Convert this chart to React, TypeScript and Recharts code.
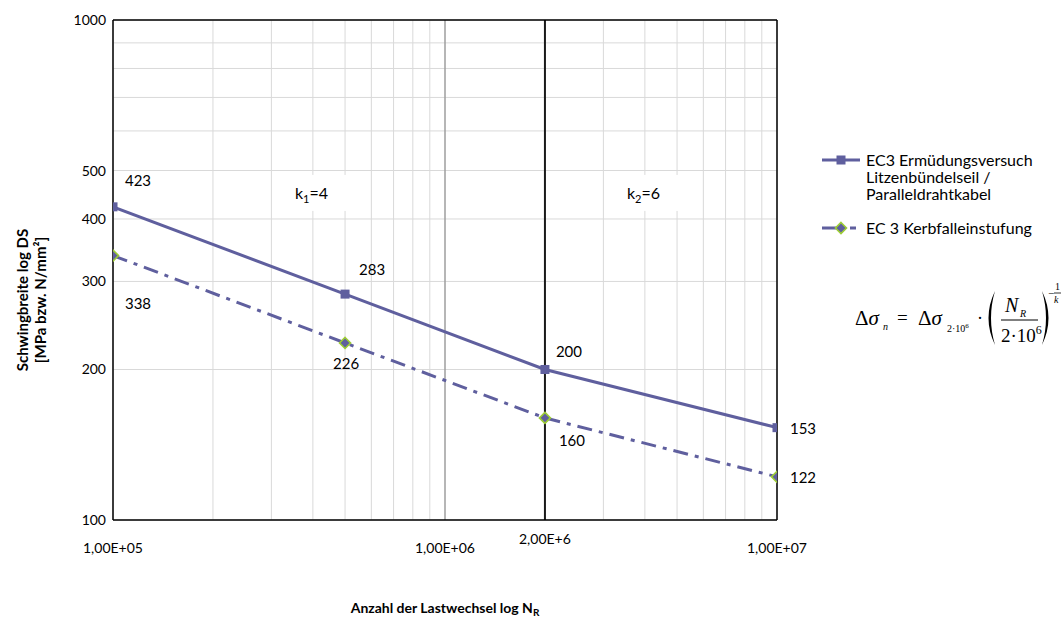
import React from "react";
import {
  LineChart,
  Line,
  XAxis,
  YAxis,
  CartesianGrid,
  ReferenceLine,
  ReferenceDot,
  LabelList,
} from "recharts";

// Stützstellen (Lastwechsel N_R)
const cycles = [1e5, 5e5, 2e6, 1e7];
// EC3 Ermüdungsversuch Litzenbündelseil / Paralleldrahtkabel
const versuchValues = [423, 283, 200, 153];
// EC 3 Kerbfalleinstufung
const kerbfallValues = [338, 226, 160, 122];

const xGridTicks = [
  1e5, 2e5, 3e5, 4e5, 5e5, 6e5, 7e5, 8e5, 9e5,
  1e6, 2e6, 3e6, 4e6, 5e6, 6e6, 7e6, 8e6, 9e6, 1e7,
];
const xLabelValues = [1e5, 1e6, 2e6, 1e7];
const xLabelTexts = ["1,00E+05", "1,00E+06", "2,00E+6", "1,00E+07"];
const yGridTicks = [100, 200, 300, 400, 500, 600, 700, 800, 900, 1000];
const yLabelValues = [100, 200, 300, 400, 500, 1000];

const versuchData = cycles.map((n, i) => ({ n, s: versuchValues[i] }));
const kerbfallData = cycles.map((n, i) => ({ n, s: kerbfallValues[i] }));

const LINE = "#5f5f9e";
const GREEN = "#9ccc34";
const FONT = "Lato, 'Open Sans', sans-serif";
const SERIF = "'Liberation Serif', 'DejaVu Serif', serif";
const DASH = "15 7 4 7";

// Lage der Wertebeschriftungen relativ zum Punkt
const versuchLabelOffsets = [[25, -27], [27, -25], [24, -18], [26, 0]];
const kerbfallLabelOffsets = [[25, 47], [1, 20], [27, 22], [26, 0]];

const XTick = (p: any) => {
  const { x, y, payload } = p;
  const i = xLabelValues.indexOf(payload.value);
  if (i < 0) return <g />;
  const dy = payload.value === 2e6 ? 24 : 33;
  return (
    <text x={x} y={y + dy} textAnchor="middle" fontSize={14} fontFamily={FONT} fill="#000">
      {xLabelTexts[i]}
    </text>
  );
};

const YTick = (p: any) => {
  const { x, y, payload } = p;
  if (!yLabelValues.includes(payload.value)) return <g />;
  return (
    <text x={x - 7} y={y + 5} textAnchor="end" fontSize={14} fontFamily={FONT} fill="#000">
      {payload.value}
    </text>
  );
};

const SquareDot = (p: any) => {
  const { cx, cy, index } = p;
  return <rect key={`sq-${index}`} x={cx - 4.5} y={cy - 4.5} width={9} height={9} fill={LINE} />;
};

const DiamondDot = (p: any) => {
  const { cx, cy, index } = p;
  const r = 5.5;
  return (
    <path
      key={`di-${index}`}
      d={`M${cx},${cy - r}L${cx + r},${cy}L${cx},${cy + r}L${cx - r},${cy}Z`}
      fill={LINE}
      stroke={GREEN}
      strokeWidth={1.6}
    />
  );
};

const makeLabel = (offsets: number[][]) => (p: any) => {
  const { x, y, index, value } = p;
  const [dx, dy] = offsets[index];
  return (
    <text
      x={x + dx}
      y={y + dy}
      textAnchor="middle"
      dominantBaseline="central"
      fontSize={15}
      fontFamily={FONT}
      fill="#000"
    >
      {value}
    </text>
  );
};

const slopeLabel = (sub: string, val: number) => (p: any) => {
  const { cx, cy } = p;
  return (
    <g>
      <rect x={cx - 30} y={cy - 18} width={66} height={36} fill="#fff" />
      <text x={cx - 18} y={cy + 6} fontSize={16} fontFamily={FONT} fill="#000">
        k
        <tspan fontSize={11} dy={4}>{sub}</tspan>
        <tspan dy={-4}>={val}</tspan>
      </text>
    </g>
  );
};

const YTitle = () => {
  const cy = 300;
  return (
    <g fontFamily={FONT} fontWeight="bold" fontSize={15} fill="#000">
      <text transform={`translate(28, ${cy}) rotate(-90)`} textAnchor="middle">
        Schwingbreite log DS
      </text>
      <text transform={`translate(46, ${cy}) rotate(-90)`} textAnchor="middle">
        [MPa  bzw. N/mm²]
      </text>
    </g>
  );
};

const XTitle = () => (
  <text x={445} y={613} textAnchor="middle" fontFamily={FONT} fontWeight="bold" fontSize={14} fill="#000">
    Anzahl der Lastwechsel log N
    <tspan fontSize={10} dy={3}>R</tspan>
  </text>
);

const LegendBox = () => (
  <svg width={245} height={110} style={{ position: "absolute", left: 818, top: 140 }}>
    <g fontFamily={FONT} fontSize={16} fill="#000">
      <line x1={4} y1={20} x2={42} y2={20} stroke={LINE} strokeWidth={3} />
      <rect x={18.5} y={15.5} width={9} height={9} fill={LINE} />
      <text x={48} y={26}>
        EC3 Ermüdungsversuch
        <tspan x={48} dy={17}>Litzenbündelseil /</tspan>
        <tspan x={48} dy={17}>Paralleldrahtkabel</tspan>
      </text>
      <line x1={4} y1={88} x2={42} y2={88} stroke={LINE} strokeWidth={3} strokeDasharray="22 6 6 6" />
      <path d="M23,82.5L28.5,88L23,93.5L17.5,88Z" fill={LINE} stroke={GREEN} strokeWidth={1.6} />
      <text x={48} y={94}>EC 3 Kerbfalleinstufung</text>
    </g>
  </svg>
);

const Formula = () => (
  <svg width={213} height={80} style={{ position: "absolute", left: 850, top: 278 }}>
    <g fontFamily={SERIF} fill="#000">
      <text x={5} y={47} fontSize={21}>Δ<tspan fontStyle="italic">σ</tspan></text>
      <text x={33} y={52} fontSize={10} fontStyle="italic">n</text>
      <text x={47} y={46} fontSize={19}>=</text>
      <text x={68} y={47} fontSize={21}>Δ<tspan fontStyle="italic">σ</tspan></text>
      <text x={97} y={54} fontSize={10}>2·10<tspan fontSize={7} dy={-4}>6</tspan></text>
      <text x={127} y={46} fontSize={18}>·</text>
      <path d="M145,13 Q132,40 145,67 Q137,40 145,13 Z" />
      <text x={155} y={34} fontSize={20} fontStyle="italic">N</text>
      <text x={170} y={39} fontSize={10} fontStyle="italic">R</text>
      <line x1={151} y1={42} x2={188} y2={42} stroke="#000" strokeWidth={1} />
      <text x={151} y={64} fontSize={19}>2·10<tspan fontSize={12} dy={-8}>6</tspan></text>
      <path d="M192,13 Q205,40 192,67 Q200,40 192,13 Z" />
      <text x={198} y={19} fontSize={11}>−</text>
      <text x={205} y={12} fontSize={10}>1</text>
      <line x1={204} y1={15} x2={211} y2={15} stroke="#000" strokeWidth={0.8} />
      <text x={204} y={25} fontSize={10} fontStyle="italic">k</text>
    </g>
  </svg>
);

export default function App() {
  return (
    <div style={{ position: "absolute", left: 0, top: 0, width: 1063, height: 619, background: "#fff" }}>
      <LineChart width={1063} height={619} margin={{ top: 20, right: 286, bottom: 59, left: 53 }}>
        <CartesianGrid stroke="#d9d9d9" strokeWidth={1} />
        <XAxis
          dataKey="n"
          type="number"
          scale="log"
          domain={[1e5, 1e7]}
          ticks={xGridTicks}
          interval={0}
          allowDataOverflow
          tick={XTick}
          tickLine={false}
          axisLine={false}
          tickSize={0}
          tickMargin={0}
          height={40}
          label={XTitle}
        />
        <YAxis
          type="number"
          scale="log"
          domain={[100, 1000]}
          ticks={yGridTicks}
          interval={0}
          allowDataOverflow
          tick={YTick}
          tickLine={false}
          axisLine={false}
          tickSize={0}
          tickMargin={0}
          width={60}
          label={YTitle}
        />
        <ReferenceLine x={1e6} stroke="#808080" strokeWidth={1} />
        <ReferenceLine x={2e6} stroke="#1a1a1a" strokeWidth={2} />
        <ReferenceLine x={1e5} stroke="#000" strokeWidth={1.5} />
        <ReferenceLine x={1e7} stroke="#000" strokeWidth={1.5} />
        <ReferenceLine y={100} stroke="#000" strokeWidth={1.5} />
        <ReferenceLine y={1000} stroke="#000" strokeWidth={1.5} />
        <ReferenceDot x={4e5} y={451} r={0} shape={slopeLabel("1", 4)} />
        <ReferenceDot x={4e6} y={451} r={0} shape={slopeLabel("2", 6)} />
        <Line
          data={versuchData}
          dataKey="s"
          name="EC3 Ermüdungsversuch Litzenbündelseil / Paralleldrahtkabel"
          stroke={LINE}
          strokeWidth={3}
          dot={SquareDot}
          activeDot={false}
          isAnimationActive={false}
        >
          <LabelList dataKey="s" content={makeLabel(versuchLabelOffsets)} />
        </Line>
        <Line
          data={kerbfallData}
          dataKey="s"
          name="EC 3 Kerbfalleinstufung"
          stroke={LINE}
          strokeWidth={3}
          strokeDasharray={DASH}
          dot={DiamondDot}
          activeDot={false}
          isAnimationActive={false}
        >
          <LabelList dataKey="s" content={makeLabel(kerbfallLabelOffsets)} />
        </Line>
      </LineChart>
      <LegendBox />
      <Formula />
    </div>
  );
}
